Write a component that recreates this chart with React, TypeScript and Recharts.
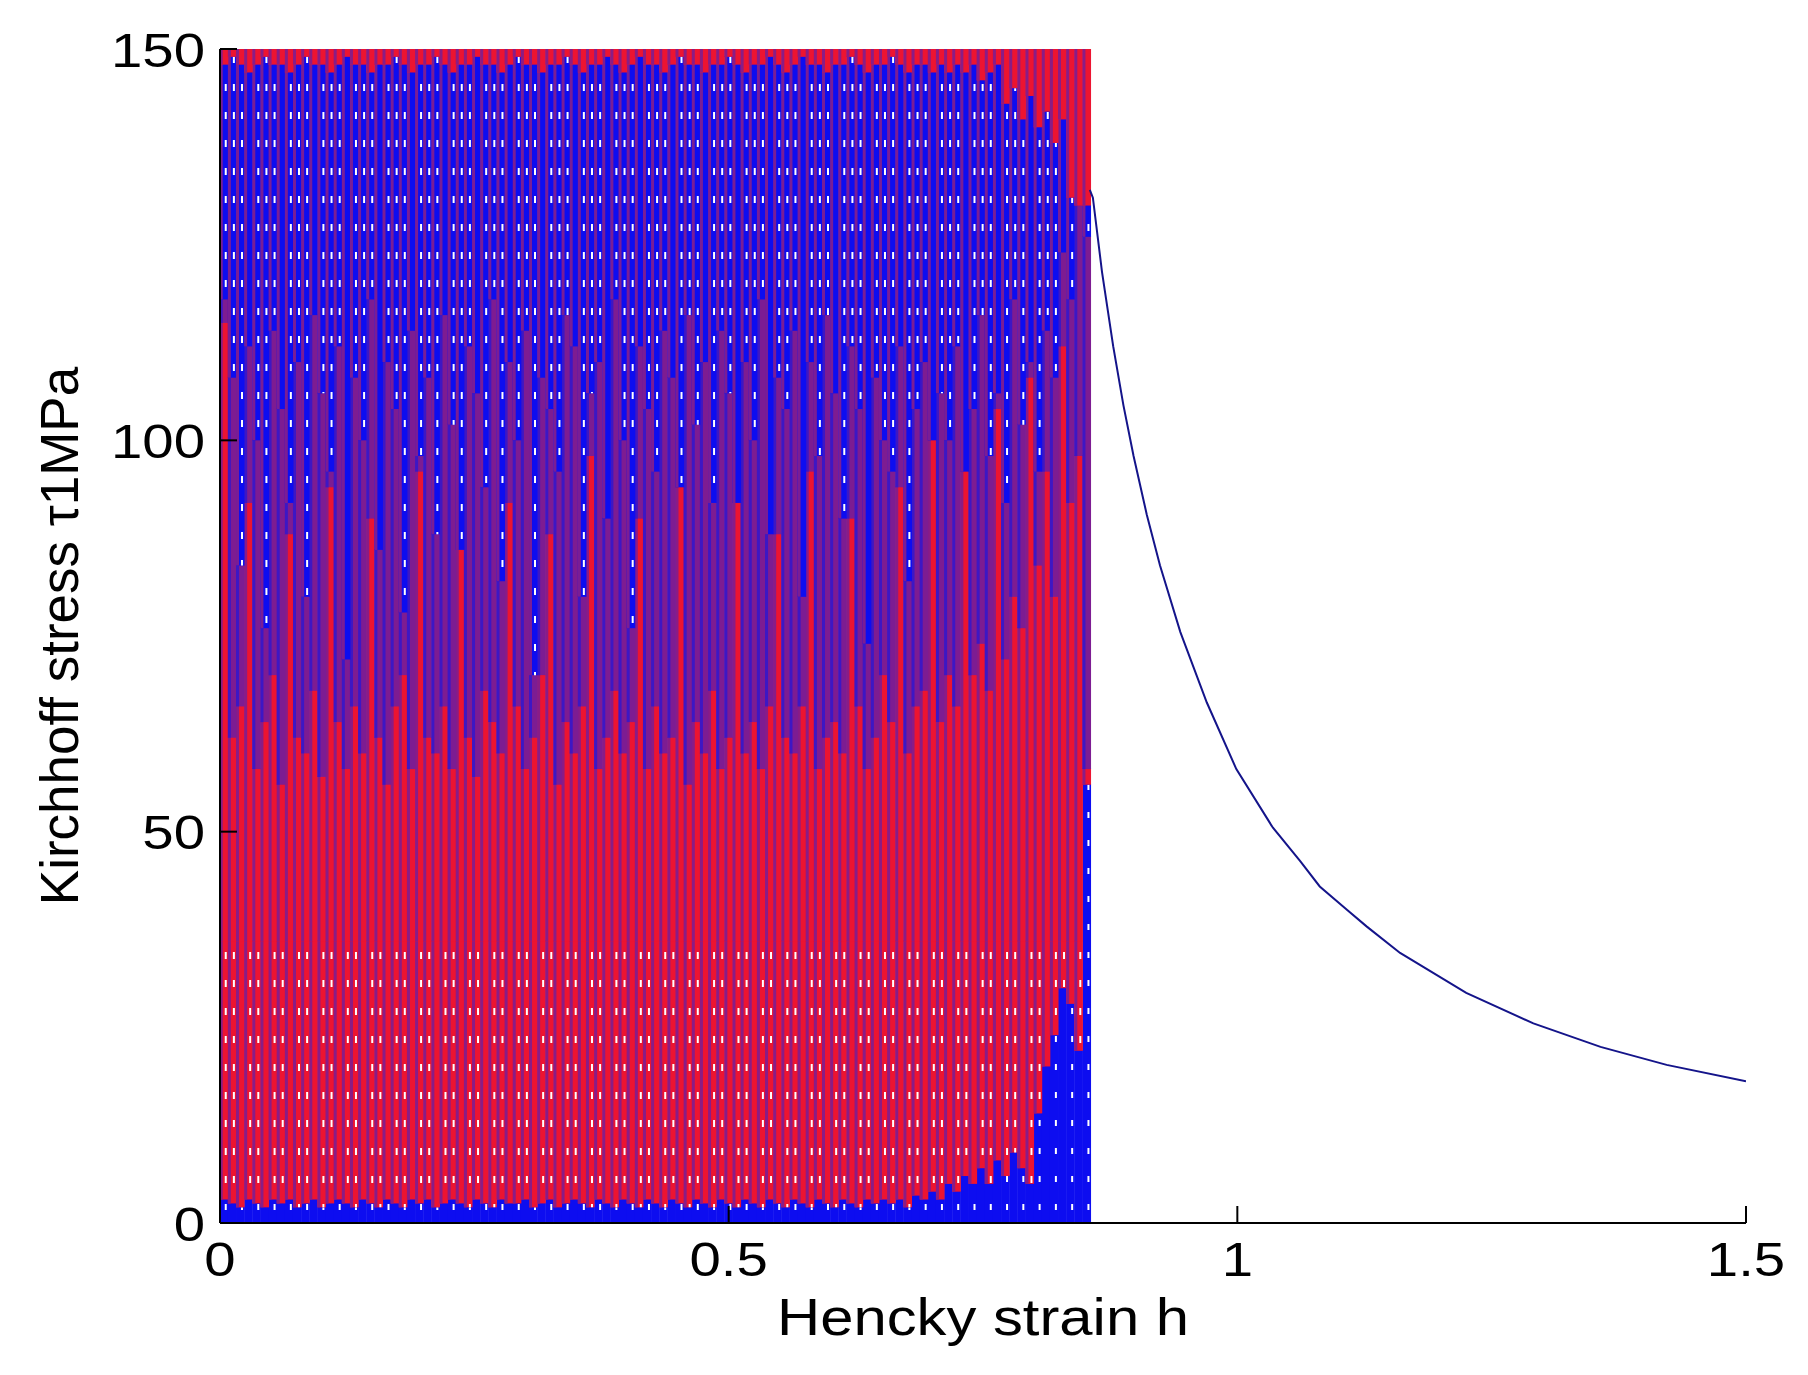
import { ComposedChart, Bar, Line, XAxis, YAxis } from "recharts";

// Hencky strain of each plotted oscillation column (read from the stripes, ~8 px apart)
const cycleStrain = [
  0.004, 0.012, 0.02, 0.028, 0.036, 0.044, 0.052, 0.06, 0.068, 0.076,
  0.084, 0.092, 0.1, 0.108, 0.116, 0.124, 0.132, 0.14, 0.148, 0.156,
  0.164, 0.172, 0.18, 0.188, 0.196, 0.204, 0.212, 0.22, 0.228, 0.236,
  0.244, 0.252, 0.26, 0.268, 0.276, 0.284, 0.292, 0.3, 0.308, 0.316,
  0.324, 0.332, 0.34, 0.348, 0.356, 0.364, 0.372, 0.38, 0.388, 0.396,
  0.404, 0.412, 0.42, 0.428, 0.436, 0.444, 0.452, 0.46, 0.468, 0.476,
  0.484, 0.492, 0.5, 0.508, 0.516, 0.524, 0.532, 0.54, 0.548, 0.556,
  0.564, 0.572, 0.58, 0.588, 0.596, 0.604, 0.612, 0.62, 0.628, 0.636,
  0.644, 0.652, 0.66, 0.668, 0.676, 0.684, 0.692, 0.7, 0.708, 0.716,
  0.724, 0.732, 0.74, 0.748, 0.756, 0.764, 0.772, 0.78, 0.788, 0.796,
  0.804, 0.812, 0.82, 0.828, 0.836, 0.844, 0.852,
];

// blue strokes hugging the strain axis (MPa)
const blueFloor = [
  3, 2.5, 2, 3, 2.5, 2, 3, 2.5, 3, 2,
  2.5, 3, 2, 2.5, 3, 2.5, 2, 3, 2.5, 2,
  3, 2.5, 2, 3, 2.5, 3, 2, 2.5, 3, 2.5,
  2, 3, 2.5, 2, 3, 2.5, 2.5, 3, 2, 2.5,
  3, 2, 2.5, 3, 2.5, 2, 3, 2.5, 2, 3,
  2.5, 2, 3, 2.5, 2, 3, 2.5, 2, 3, 2.5,
  2, 3, 2.5, 2, 3, 2.5, 2, 3, 2.5, 2,
  3, 2.5, 2, 3, 2.5, 2, 3, 2.5, 2, 3,
  2.5, 3, 2.5, 3, 2, 3.5, 3, 4, 3, 5,
  4, 6, 5, 7, 5, 8, 6, 9, 7, 5,
  14, 20, 24, 30, 28, 22, 56,
];

// how far the red strokes reach up from the bottom (MPa)
const redReach = [
  115, 62, 66, 92, 58, 64, 70, 56, 88, 62,
  60, 68, 57, 94, 64, 58, 66, 60, 90, 62,
  56, 66, 70, 58, 96, 62, 60, 66, 58, 86,
  62, 57, 68, 64, 60, 92, 66, 58, 62, 70,
  88, 56, 64, 60, 66, 98, 58, 62, 68, 60,
  64, 90, 58, 66, 60, 62, 94, 56, 64, 60,
  68, 58, 62, 92, 60, 64, 58, 66, 88, 62,
  60, 66, 96, 58, 62, 64, 60, 90, 66, 58,
  62, 70, 64, 94, 60, 66, 68, 100, 64, 70,
  66, 96, 70, 74, 68, 104, 72, 80, 76, 108,
  84, 96, 80, 112, 92, 98, 58,
];

// where the solid blue band starts from the top down (MPa)
const blueReach = [
  118, 108, 84, 112, 100, 76, 114, 104, 92, 110,
  80, 116, 106, 96, 112, 72, 108, 100, 118, 86,
  110, 104, 78, 114, 98, 108, 88, 116, 102, 74,
  112, 106, 94, 118, 82, 110, 100, 114, 70, 108,
  104, 96, 116, 112, 80, 106, 110, 90, 118, 100,
  76, 112, 104, 96, 114, 108, 84, 116, 102, 110,
  92, 114, 106, 72, 110, 100, 118, 88, 108, 104,
  114, 80, 110, 98, 116, 106, 90, 112, 104, 74,
  108, 100, 96, 112, 82, 104, 110, 94, 106, 100,
  112, 88, 104, 116, 98, 106, 92, 118, 102, 110,
  96, 114, 108, 124, 118, 130, 126,
];

// red strokes showing again along the top edge (MPa)
const redTopStart = [
  148, 149, 148, 147, 148, 149, 148, 148, 147, 148,
  149, 148, 148, 147, 148, 149, 148, 148, 147, 148,
  148, 149, 148, 147, 148, 148, 149, 148, 147, 148,
  148, 149, 148, 148, 147, 148, 149, 148, 148, 147,
  148, 148, 149, 148, 147, 148, 148, 149, 148, 147,
  148, 149, 148, 148, 147, 148, 149, 148, 148, 147,
  148, 148, 149, 148, 147, 148, 148, 149, 148, 147,
  148, 149, 148, 148, 147, 148, 148, 149, 148, 147,
  148, 148, 149, 148, 147, 148, 148, 147, 148, 147,
  148, 147, 148, 146, 147, 148, 143, 145, 141, 144,
  140, 142, 138, 141, 131, 129, 130,
];

// white gaps between red strokes only show below this stress (MPa)
const RED_GAP_TOP = 36;

// the single blue branch after the oscillations stop
const tailStrain = [
  0.855, 0.858, 0.867, 0.878, 0.888, 0.898, 0.911, 0.924, 0.944, 0.97,
  0.999, 1.035, 1.062, 1.081, 1.108, 1.127, 1.16, 1.225, 1.291, 1.357,
  1.422, 1.5,
];
const tailStress = [
  132, 131, 121.5, 112, 104.5, 98, 90.5, 84, 75.5, 66.5,
  58, 50.5, 46.2, 43, 40, 37.9, 34.5, 29.4, 25.5, 22.5,
  20.2, 18.1,
];

const xTicks = [0, 0.5, 1, 1.5];
const yTicks = [0, 50, 100, 150];

const RED = "#ec1431";
const BLUE = "#0d0df0";
const PURPLE = "#7d1c92";
const FONT = "'Liberation Sans', Arial, Helvetica, sans-serif";
const STRETCH = 1.15;
const TICK_LEN = 17;
const COL_W = 8.6;
const GAP_PERIOD = 28;

const columns = cycleStrain.map((strain, i) => {
  const floor = blueFloor[i];
  const redTop = Math.max(redReach[i], floor);
  const redSplit = Math.min(Math.max(RED_GAP_TOP, floor), redTop);
  const purpleTop = Math.max(blueReach[i], redTop);
  const blueTop = Math.max(redTopStart[i], purpleTop);
  return {
    strain,
    floor,
    redLow: redSplit - floor,
    redHigh: redTop - redSplit,
    purple: purpleTop - redTop,
    blue: blueTop - purpleTop,
    cap: 150 - blueTop,
  };
});

const tail = tailStrain.map((strain, i) => ({ strain, stress: tailStress[i] }));

// one segment of an oscillation column: fill, a darker stroke on the left, optional white gaps
function Column({ x, y, width, height, fill, stripe, gaps, index, skip = 0, dash = 8 }: any) {
  if (!height || height <= 0) return null;
  const left = x + width / 2 - COL_W / 2;
  const showGaps = gaps && (skip === 0 || index % skip !== skip - 1);
  return (
    <g>
      {/* overlap the segment above by a hair so no seam shows */}
      <rect x={left} y={y - 0.8} width={COL_W} height={height + 0.8} fill={fill} />
      {stripe && (
        <line x1={left + 1.5} x2={left + 1.5} y1={y - 0.8} y2={y + height} stroke={stripe} strokeWidth={3} />
      )}
      {showGaps && (
        <line
          x1={left + 6}
          x2={left + 6}
          y1={y}
          y2={y + height}
          stroke="#fff"
          strokeWidth={2}
          strokeDasharray={`${dash} ${GAP_PERIOD - dash}`}
          strokeDashoffset={((y % GAP_PERIOD) + GAP_PERIOD) % GAP_PERIOD}
        />
      )}
    </g>
  );
}

function BottomTick({ x, y, payload }: any) {
  return (
    <g>
      <line x1={x} y1={y} x2={x} y2={y - TICK_LEN} stroke="#000" strokeWidth={2} />
      <text
        transform={`translate(${x},${y + 53}) scale(${STRETCH},1)`}
        textAnchor="middle"
        fontSize={49}
        fontFamily={FONT}
        fill="#000"
      >
        {payload.value}
      </text>
    </g>
  );
}

function LeftTick({ x, y, payload }: any) {
  return (
    <g>
      <line x1={x} y1={y} x2={x + TICK_LEN} y2={y} stroke="#000" strokeWidth={2} />
      <text
        transform={`translate(${x - 15},${y + 17.5}) scale(${STRETCH},1)`}
        textAnchor="end"
        fontSize={49}
        fontFamily={FONT}
        fill="#000"
      >
        {payload.value}
      </text>
    </g>
  );
}

function TopTick({ x, y }: any) {
  return <line x1={x} y1={y} x2={x} y2={y + TICK_LEN} stroke="#000" strokeWidth={2} />;
}

function RightTick({ x, y }: any) {
  return <line x1={x} y1={y} x2={x - TICK_LEN} y2={y} stroke="#000" strokeWidth={2} />;
}

export default function App() {
  const axisLine = { stroke: "#000", strokeWidth: 2 };
  return (
    <div style={{ position: "absolute", left: 0, top: 0, background: "#fff" }}>
      <ComposedChart
        width={1808}
        height={1375}
        data={columns}
        margin={{ top: 49, right: 62, bottom: 0, left: 0 }}
        barGap={0}
        barCategoryGap={0}
      >
        <XAxis
          dataKey="strain"
          type="number"
          domain={[0, 1.5]}
          ticks={xTicks}
          allowDataOverflow
          height={152}
          axisLine={axisLine}
          tickLine={false}
          tickSize={0}
          tickMargin={0}
          tick={<BottomTick />}
          label={{
            content: ({ viewBox }: any) => (
              <text
                transform={`translate(${viewBox.x + viewBox.width / 2},${viewBox.y + 112}) scale(${STRETCH},1)`}
                textAnchor="middle"
                fontSize={52}
                fontFamily={FONT}
                fill="#000"
              >
                Hencky strain h
              </text>
            ),
          }}
        />
        <XAxis
          xAxisId="top"
          orientation="top"
          dataKey="strain"
          type="number"
          domain={[0, 1.5]}
          ticks={xTicks}
          allowDataOverflow
          height={0}
          axisLine={axisLine}
          tickLine={false}
          tickSize={0}
          tickMargin={0}
          tick={<TopTick />}
        />
        <YAxis
          type="number"
          domain={[0, 150]}
          ticks={yTicks}
          allowDataOverflow
          width={220}
          axisLine={axisLine}
          tickLine={false}
          tickSize={0}
          tickMargin={0}
          tick={<LeftTick />}
          label={{
            content: ({ viewBox }: any) => {
              const cy = viewBox.y + viewBox.height / 2;
              return (
                <text
                  transform={`translate(${viewBox.x + 78},${cy}) rotate(-90)`}
                  textAnchor="middle"
                  fontSize={53}
                  fontFamily={FONT}
                  fill="#000"
                >
                  Kirchhoff stress τ1MPa
                </text>
              );
            },
          }}
        />
        <YAxis
          yAxisId="right"
          orientation="right"
          type="number"
          domain={[0, 150]}
          ticks={yTicks}
          allowDataOverflow
          width={0}
          axisLine={axisLine}
          tickLine={false}
          tickSize={0}
          tickMargin={0}
          tick={<RightTick />}
        />

        <Bar dataKey="floor" stackId="field" fill={BLUE} isAnimationActive={false}
          shape={(p: any) => <Column {...p} gaps skip={2} dash={6} />} />
        <Bar dataKey="redLow" stackId="field" fill={RED} isAnimationActive={false}
          shape={(p: any) => <Column {...p} stripe="#8a1c86" gaps skip={3} dash={7} />} />
        <Bar dataKey="redHigh" stackId="field" fill={RED} isAnimationActive={false}
          shape={(p: any) => <Column {...p} stripe="#8a1c86" />} />
        <Bar dataKey="purple" stackId="field" fill={PURPLE} isAnimationActive={false}
          shape={(p: any) => <Column {...p} stripe="#3d17c4" />} />
        <Bar dataKey="blue" stackId="field" fill={BLUE} isAnimationActive={false}
          shape={(p: any) => <Column {...p} stripe="#7a1d95" gaps skip={4} dash={7} />} />
        <Bar dataKey="cap" stackId="field" fill={RED} isAnimationActive={false}
          shape={(p: any) => <Column {...p} stripe="#8a1c86" />} />

        <Line
          data={tail}
          dataKey="stress"
          type="linear"
          stroke="#14148a"
          strokeWidth={2}
          dot={false}
          isAnimationActive={false}
        />
      </ComposedChart>
    </div>
  );
}
